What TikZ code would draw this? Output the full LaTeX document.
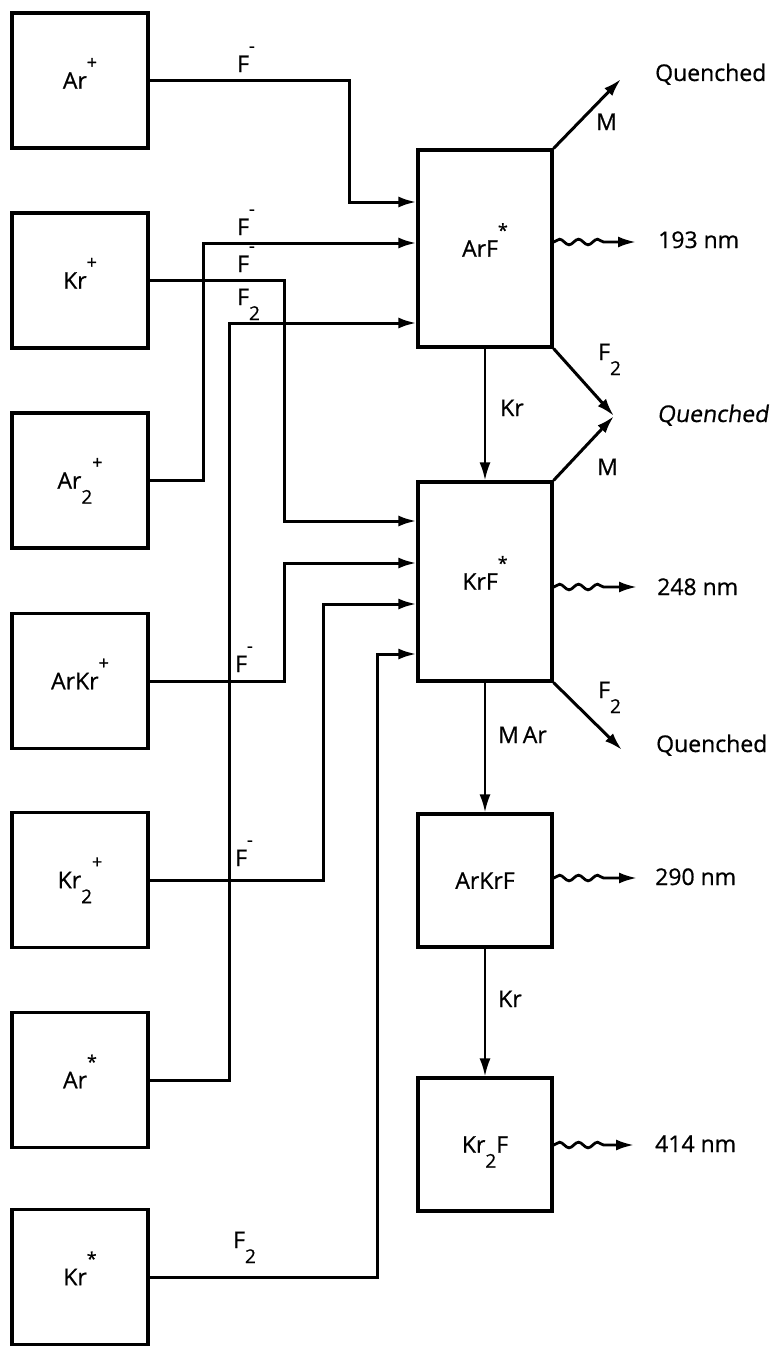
\documentclass[tikz,border=0pt]{standalone}
\usepackage{fontspec}
\setmainfont{Open Sans}[FakeBold=0.7,AutoFakeBold=0.7]
\newfontfamily\regfont{Open Sans}[FakeBold=0.7]
\newfontfamily\slantfont{Open Sans}[FakeSlant=0.15,FakeBold=0.7]
\usetikzlibrary{arrows.meta,decorations.pathmorphing}
\newcommand\upx[1]{\smash{\raisebox{20pt}{\fontsize{18}{18}\selectfont #1}}}
\newcommand\dnx[1]{\smash{\raisebox{-15pt}{\fontsize{19}{19}\selectfont #1}}}
\begin{document}
\begin{tikzpicture}[x=1pt,y=-1pt,
  box/.style={draw,line width=3.2pt,minimum width=136pt,minimum height=135pt,inner sep=0pt,font=\fontsize{23}{26}\regfont},
  rbox/.style={box,minimum width=134pt},
  wire/.style={line width=3pt},
  thinw/.style={line width=2.3pt},
  tip/.style={-{Latex[length=18pt,width=11pt]}},
  lab/.style={font=\fontsize{23}{26}\regfont,inner sep=0pt,anchor=base west},
  wavy/.style={line width=2.8pt,-{Latex[length=18pt,width=11pt]},decorate,decoration={snake,amplitude=2.8pt,segment length=19pt,post length=26pt}}
]
\useasboundingbox (0,0) rectangle (777,1346);
% left boxes
\node[box] (arp)   at (80,80.5)  {Ar\upx{+}};
\node[box] (krp)   at (80,280.5) {Kr\upx{+}};
\node[box] (artp)  at (80,480.5) {Ar\dnx{2}\upx{+}};
\node[box] (arkrp) at (80,681)   {ArKr\upx{+}};
\node[box] (krtp)  at (80,880)   {Kr\dnx{2}\upx{+}};
\node[box] (ars)   at (80,1080)  {Ar\upx{*}};
\node[box] (krs)   at (80,1277)  {Kr\upx{*}};
% right boxes
\node[rbox,minimum height=197pt] (arf)   at (485,248.5)  {ArF\upx{*}};
\node[rbox,minimum height=199pt] (krf)   at (485,581.5)  {KrF\upx{*}};
\node[rbox,minimum height=133pt] (arkrf) at (485,880.5)  {ArKrF};
\node[rbox,minimum height=133pt] (krtf)  at (485,1144.5) {Kr\dnx{2}F};
% bend coordinates
\coordinate (c1) at (349,202);
\coordinate (c2) at (203,243);
\coordinate (c3) at (229,323);
\coordinate (c4) at (284,521);
\coordinate (c5) at (284,563);
\coordinate (c6) at (323,604);
\coordinate (c7) at (377,654);
% input wires
\draw[wire,tip] (arp.east) -| (c1) -- (c1 -| arf.west);
\draw[wire,tip] (artp.east) -| (c2) -- (c2 -| arf.west);
\draw[wire,tip] (ars.east) -| (c3) -- (c3 -| arf.west);
\draw[wire,tip] (krp.east) -| (c4) -- (c4 -| krf.west);
\draw[wire,tip] (arkrp.east) -| (c5) -- (c5 -| krf.west);
\draw[wire,tip] (krtp.east) -| (c6) -- (c6 -| krf.west);
\draw[wire,tip] (krs.east) -| (c7) -- (c7 -| krf.west);
% vertical transfers
\draw[thinw,tip] (arf.south) -- (krf.north);
\draw[thinw,tip] (krf.south) -- (arkrf.north);
\draw[thinw,tip] (arkrf.south) -- (krtf.north);
% quenching
\coordinate (q1) at (621,79);
\coordinate (q2) at (614,416);
\coordinate (q3) at (622,750);
\draw[wire,tip] (arf.north east) -- (q1);
\draw[wire,tip] (arf.south east) -- (q2);
\draw[wire,tip] (krf.north east) -- (q2);
\draw[wire,tip] (krf.south east) -- (q3);
% emission
\coordinate (w1) at (636,242);
\coordinate (w2) at (637,587);
\coordinate (w3) at (637,878);
\coordinate (w4) at (634,1145);
\draw[wavy] (w1 -| arf.east) -- (w1);
\draw[wavy] (w2 -| krf.east) -- (w2);
\draw[wavy] (w3 -| arkrf.east) -- (w3);
\draw[wavy] (w4 -| krtf.east) -- (w4);
% labels right side
\node[lab] (tq1) at (655,81) {Quenched};
\node[lab] (tm1) at (596,130) {M};
\node[lab] (t193) at (658,248) {193 nm};
\node[lab] (tf21) at (598,360) {F\dnx{2}};
\node[lab] (tkr1) at (500,416) {Kr};
\node[lab,font=\fontsize{23}{26}\slantfont] (tq2) at (657,422) {Quenched};
\node[lab] (tm2) at (597,475) {M};
\node[lab] (t248) at (657,595) {248 nm};
\node[lab] (tf22) at (598,698) {F\dnx{2}};
\node[lab] (tmar) at (498,743) {M\,Ar};
\node[lab] (tq3) at (656,752) {Quenched};
\node[lab] (t290) at (655,885) {290 nm};
\node[lab] (tkr2) at (498,1007) {Kr};
\node[lab] (t414) at (655,1152) {414 nm};
% labels left side
\node[lab] (tfa) at (237,72) {F\upx{-}};
\node[lab] (tfb) at (237,235) {F\upx{-}};
\node[lab] (tfc) at (237,272) {F\upx{-}};
\node[lab] (tfd) at (237,305) {F\dnx{2}};
\node[lab] (tfe) at (235,672) {F\upx{-}};
\node[lab] (tff) at (235,866) {F\upx{-}};
\node[lab] (tfg) at (233,1248) {F\dnx{2}};
\end{tikzpicture}
\end{document}
